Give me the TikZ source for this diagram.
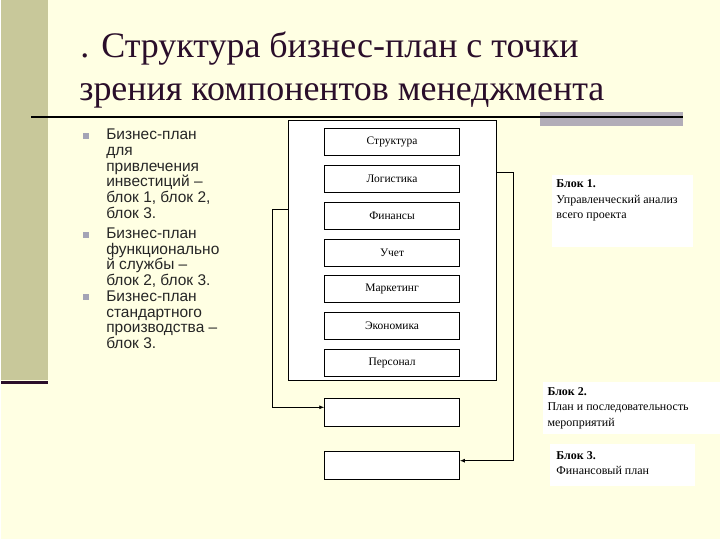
\documentclass[tikz,border=0pt]{standalone}
\usepackage{fontspec}
\setmainfont{Liberation Serif}
\newfontfamily\arialfont{Liberation Sans}
\usetikzlibrary{arrows.meta,positioning}
\definecolor{slidebg}{HTML}{FFFFE3}
\definecolor{sidebar}{HTML}{C8C89A}
\definecolor{rulegrey}{HTML}{B2ADB8}
\definecolor{titleink}{HTML}{2A0E2A}
\definecolor{bulletgrey}{HTML}{A4A4B6}

\begin{document}
\begin{tikzpicture}[x=1pt,y=-1pt,>={Latex[length=5pt,width=4pt]},node distance=9pt,
    unit/.style={draw,line width=0.8pt,fill=white,minimum width=135pt,minimum height=27pt,inner sep=0pt,font=\fontsize{11.5}{12}\selectfont},
    blockbox/.style={draw,line width=0.8pt,fill=white,minimum width=135pt,minimum height=28pt,inner sep=0pt},
    bullettext/.style={anchor=north west,inner sep=0pt,align=left,text=black!85,font=\arialfont\fontsize{15.5}{15.8}\selectfont},
    bulletsq/.style={fill=bulletgrey,minimum size=6pt,inner sep=0pt},
    note/.style={anchor=north west,inner sep=0pt,align=left,font=\fontsize{12}{15.3}\selectfont},
    conn/.style={->,line width=0.9pt}]
    % slide background
    \fill[slidebg] (0,0) rectangle (720,540);
    \fill[sidebar] (0,0) rectangle (47,381);
    \draw[titleink,line width=2.5pt] (0,383) -- (47,383);
    \fill[rulegrey] (540,112) rectangle (683,126);
    \draw[black,line width=2pt] (30,117) -- (683,117);
    % title
    \node[anchor=base west,inner sep=0pt,text=titleink,font=\fontsize{36}{40}\selectfont] (title1) at (79,58) {. Структура бизнес-план с точки};
    \node[anchor=base west,inner sep=0pt,text=titleink,font=\fontsize{36}{40}\selectfont] (title2) at (78,101) {зрения компонентов менеджмента};
    % bullet list
    \node[bulletsq] (b1) at (85,136) {};
    \node[bulletsq] (b2) at (85,235) {};
    \node[bulletsq] (b3) at (85,298) {};
    \node[bullettext] (t1) at (105,129) {Бизнес-план\\для\\привлечения\\инвестиций –\\блок 1, блок 2,\\блок 3.};
    \node[bullettext] (t2) at (105,228) {Бизнес-план\\функционально\\й службы –\\блок 2, блок 3.};
    \node[bullettext] (t3) at (105,291) {Бизнес-план\\стандартного\\производства –\\блок 3.};
    % components
    \node[draw,line width=0.8pt,fill=white,minimum width=208pt,minimum height=260pt,inner sep=0pt] (outer) at (392,251) {};
    \node[unit] (struct) at (391.5,142.5) {Структура};
    \node[unit,below=of struct] (logist) {Логистика};
    \node[unit,below=of logist] (fin) {Финансы};
    \node[unit,below=of fin] (acc) {Учет};
    \node[unit,below=of acc] (mark) {Маркетинг};
    \node[unit,below=of mark] (econ) {Экономика};
    \node[unit,below=of econ] (staff) {Персонал};
    % blocks 2 and 3
    \node[blockbox] (plan) at (391.5,413) {};
    \node[blockbox] (money) at (391.5,466.5) {};
    \draw[conn] (outer.west |- 0,210) -- ++(-16,0) |- ([yshift=5pt]plan.west);
    \draw[conn] (outer.east |- 0,173) -- ++(17,0) |- ([yshift=5pt]money.east);
    % notes
    \fill[white] (552,175) rectangle (693,247);
    \fill[white] (543,383) rectangle (720,435);
    \fill[white] (550,445) rectangle (695,487);
    \node[note] (n1) at (556,180) {\textbf{Блок 1.}\\Управленческий анализ\\всего проекта};
    \node[note] (n2) at (547,388) {\textbf{Блок 2.}\\План и последовательность\\мероприятий};
    \node[note] (n3) at (556,452) {\textbf{Блок 3.}\\Финансовый план};
\end{tikzpicture}
\end{document}
